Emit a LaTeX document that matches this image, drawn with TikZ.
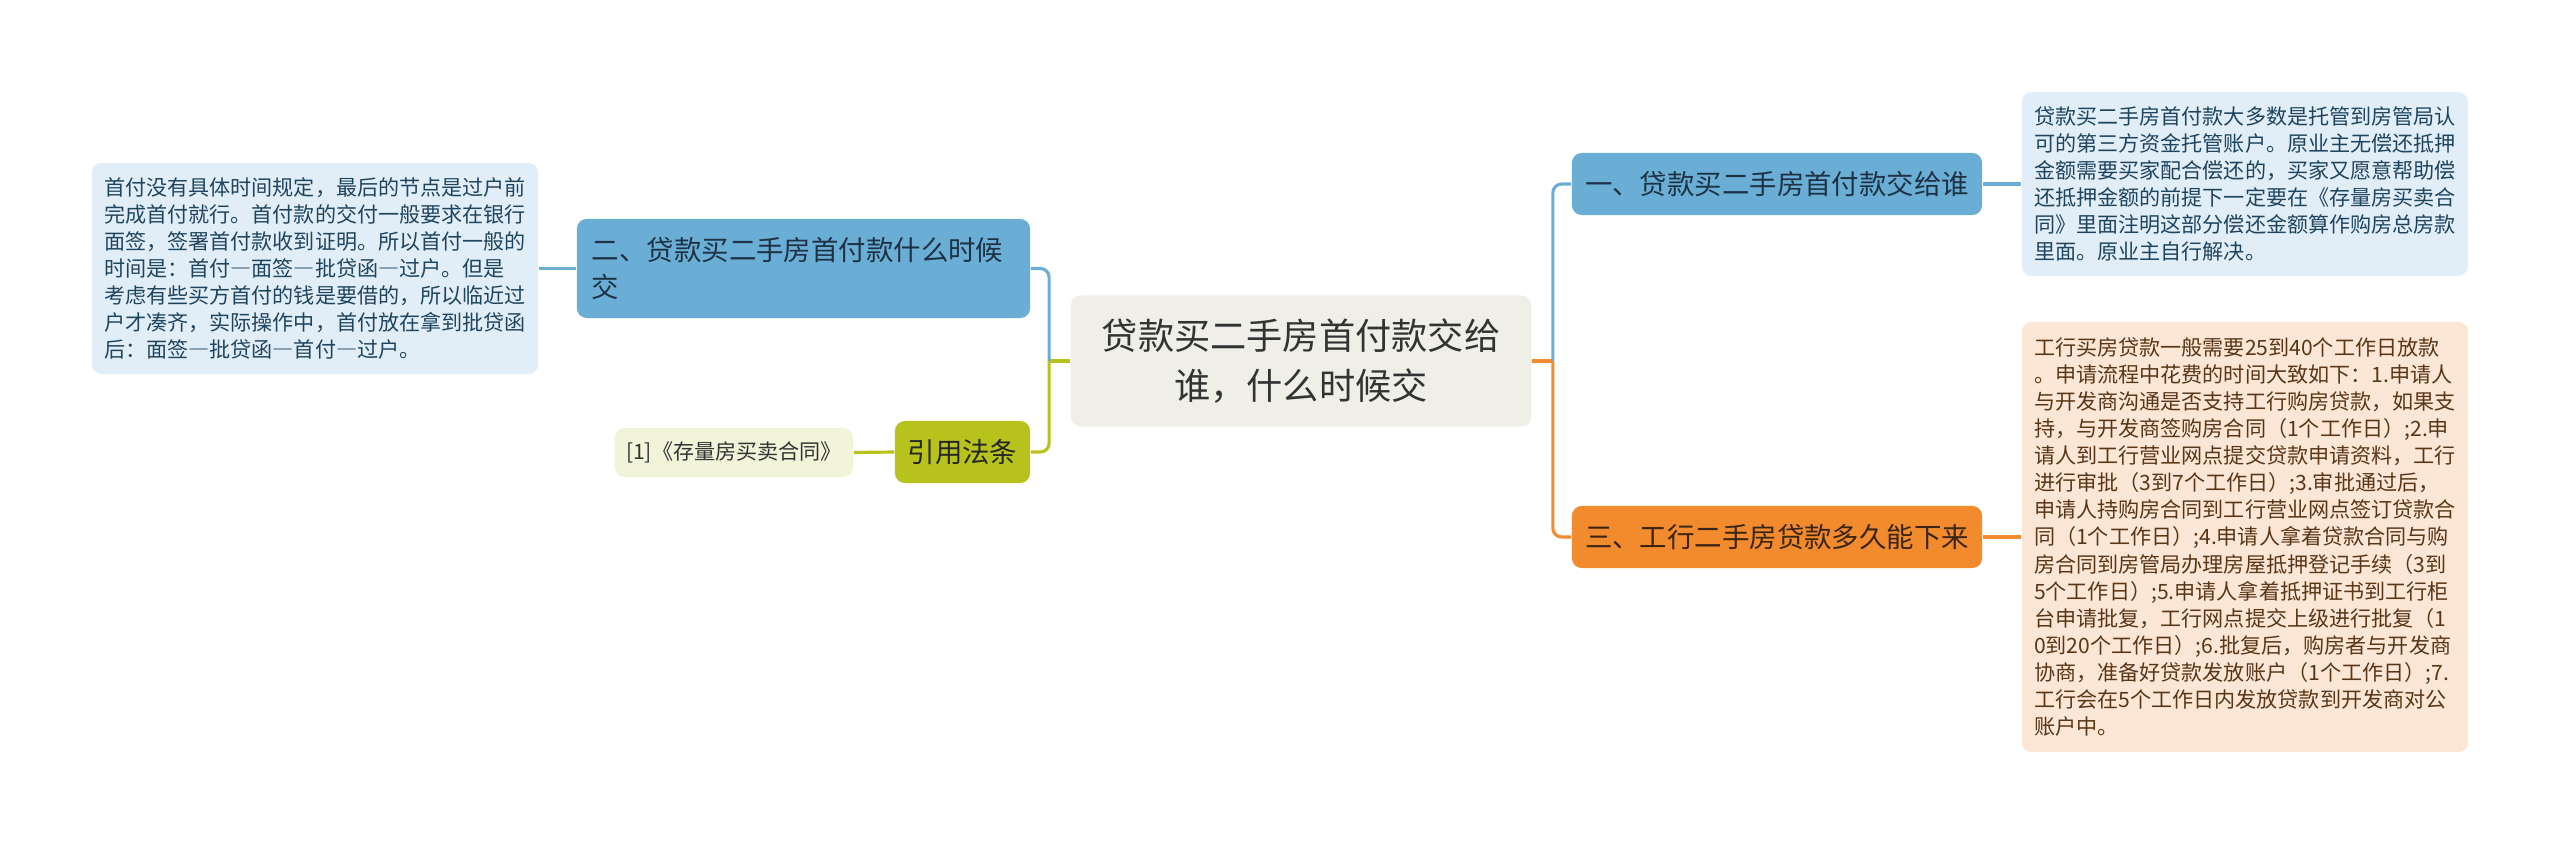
\documentclass[tikz,border=0pt]{standalone}
\usepackage{fontspec}
\setmainfont{Noto Sans CJK SC}
\usetikzlibrary{positioning}

% full-width dash as in the source picture
\newcommand{\jdash}{{\addfontfeature{RawFeature=+fwid}—}}

\definecolor{rootfill}{HTML}{EFEFE7}
\definecolor{bluefill}{HTML}{6AAED6}
\definecolor{blueleaf}{HTML}{E2EEF7}
\definecolor{bluetext}{HTML}{1E3245}
\definecolor{leafblue}{HTML}{1F4460}
\definecolor{orangefill}{HTML}{F28A2E}
\definecolor{orangeleaf}{HTML}{FCE6D6}
\definecolor{orangetext}{HTML}{3A2412}
\definecolor{leafbrown}{HTML}{5A3616}
\definecolor{olivefill}{HTML}{B7C31C}
\definecolor{oliveleaf}{HTML}{F2F4DA}

\tikzset{
  rootbox/.style={rectangle, rounded corners=2.8pt, fill=rootfill, text=black!80,
    font=\fontsize{10.3}{14.2}\selectfont, align=center,
    minimum width=4.6cm, minimum height=1.31cm},
  branchbox/.style={rectangle, rounded corners=2.8pt, inner sep=0pt,
    font=\fontsize{7.8}{10.5}\selectfont, minimum height=0.62cm},
  leafbox/.style={rectangle, rounded corners=2.8pt, inner sep=0pt, align=left,
    font=\fontsize{6}{7.7}\selectfont},
  link/.style={line width=0.9pt, rounded corners=2.5pt},
}

\begin{document}
\begin{tikzpicture}[x=0.01cm,y=-0.01cm]
\useasboundingbox (0,0) rectangle (2560,845);

% centre topic
\node[rootbox] (root) at (1301,361) {贷款买二手房首付款交给\\谁，什么时候交};

% right branches
\node[branchbox, fill=bluefill, text=bluetext, minimum width=4.1cm] (who) at (1777,184) {一、贷款买二手房首付款交给谁};
\node[branchbox, fill=orangefill, text=orangetext, minimum width=4.1cm] (icbc) at (1777,537) {三、工行二手房贷款多久能下来};

% left branches
\node[branchbox, fill=bluefill, text=bluetext, minimum width=4.53cm, minimum height=0.99cm,
  inner xsep=0.15cm, text width=4.23cm, align=left] (when) at (803.5,268.5) {二、贷款买二手房首付款什么时候\\交};
\node[branchbox, fill=olivefill, text=black!85, minimum width=1.35cm] (law) at (962.5,452) {引用法条};

% leaf texts
\node[leafbox, fill=blueleaf, text=leafblue, minimum width=4.46cm, minimum height=1.84cm] (whotxt) at (2245,184) {%
贷款买二手房首付款大多数是托管到房管局认\\
可的第三方资金托管账户。原业主无偿还抵押\\
金额需要买家配合偿还的，买家又愿意帮助偿\\
还抵押金额的前提下一定要在《存量房买卖合\\
同》里面注明这部分偿还金额算作购房总房款\\
里面。原业主自行解决。};

\node[leafbox, fill=orangeleaf, text=leafbrown, minimum width=4.46cm, minimum height=4.30cm] (icbctxt) at (2245,537) {%
工行买房贷款一般需要25到40个工作日放款\\
。申请流程中花费的时间大致如下：1.申请人\\
与开发商沟通是否支持工行购房贷款，如果支\\
持，与开发商签购房合同（1个工作日）;2.申\\
请人到工行营业网点提交贷款申请资料，工行\\
进行审批（3到7个工作日）;3.审批通过后，\\
申请人持购房合同到工行营业网点签订贷款合\\
同（1个工作日）;4.申请人拿着贷款合同与购\\
房合同到房管局办理房屋抵押登记手续（3到\\
5个工作日）;5.申请人拿着抵押证书到工行柜\\
台申请批复，工行网点提交上级进行批复（1\\
0到20个工作日）;6.批复后，购房者与开发商\\
协商，准备好贷款发放账户（1个工作日）;7.\\
工行会在5个工作日内发放贷款到开发商对公\\
账户中。};

\node[leafbox, fill=blueleaf, text=leafblue, minimum width=4.46cm, minimum height=2.11cm] (whentxt) at (315,268.5) {%
首付没有具体时间规定，最后的节点是过户前\\
完成首付就行。首付款的交付一般要求在银行\\
面签，签署首付款收到证明。所以首付一般的\\
时间是：首付\jdash 面签\jdash 批贷函\jdash 过户。但是\\
考虑有些买方首付的钱是要借的，所以临近过\\
户才凑齐，实际操作中，首付放在拿到批贷函\\
后：面签\jdash 批贷函\jdash 首付\jdash 过户。};

\node[leafbox, fill=oliveleaf, text=black!80, minimum width=2.38cm, minimum height=0.49cm] (lawtxt) at (734,452.5) {[1]《存量房买卖合同》};

% connectors
\coordinate[right=0.21cm of root.east] (rj);
\coordinate[left=0.21cm of root.west] (lj);
\draw[link, orangefill] (root.east) -- (rj);
\draw[link, orangefill] (rj) |- (icbc.west);
\draw[link, bluefill] (rj) |- (who.west);
\draw[link, olivefill] (root.west) -- (lj);
\draw[link, olivefill] (lj) |- (law.east);
\draw[link, bluefill] (lj) |- (when.east);
\draw[link, bluefill] (who.east) -- (whotxt.west);
\draw[link, orangefill] (icbc.east) -- (icbctxt.west);
\draw[link, bluefill] (when.west) -- (whentxt.east);
\draw[link, olivefill] (law.west) -- (lawtxt.east);
\end{tikzpicture}
\end{document}
